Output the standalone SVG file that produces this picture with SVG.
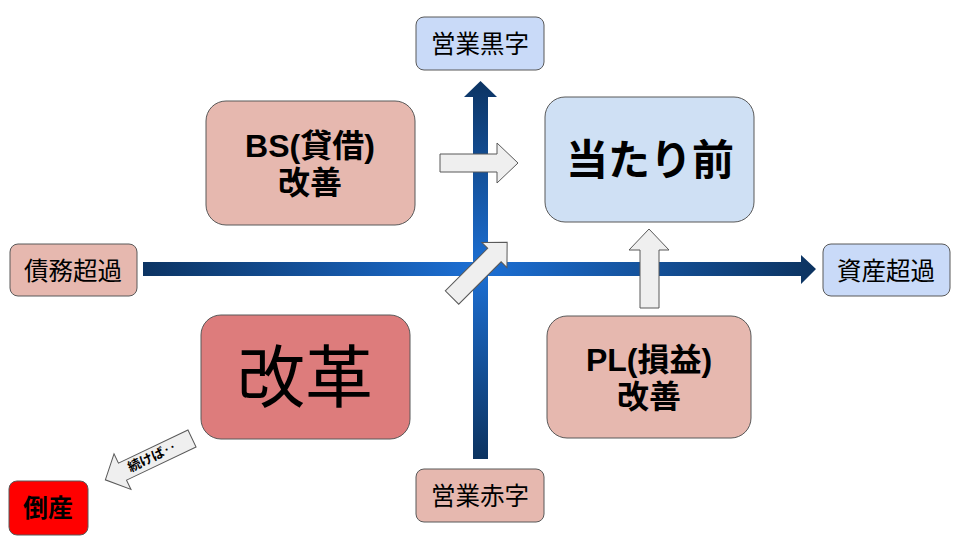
<svg xmlns="http://www.w3.org/2000/svg" width="960" height="540" viewBox="0 0 960 540">
<style>
.box{stroke:#595959;stroke-width:1}
.blue{fill:#c9daf8}
.pale{fill:#cfe0f4}
.pink{fill:#e6b8af}
.red{fill:#dd7c7c}
.crit{fill:#ff0000}
.blk{fill:#efefef;stroke:#595959;stroke-width:1}
text{font-family:"Liberation Sans","Noto Sans CJK JP",sans-serif;fill:#000;text-anchor:middle;dominant-baseline:central}
.s{font-size:24.5px}
.b{font-weight:bold}
.m{font-size:32px;font-weight:bold}
</style>
<defs>
<linearGradient id="gh" gradientUnits="userSpaceOnUse" x1="143" y1="0" x2="816" y2="0">
<stop offset="0" stop-color="#0c3463"/>
<stop offset="0.5" stop-color="#1c6fd4"/>
<stop offset="1" stop-color="#0c3360"/>
</linearGradient>
<linearGradient id="gv" gradientUnits="userSpaceOnUse" x1="0" y1="81" x2="0" y2="459">
<stop offset="0" stop-color="#0c3463"/>
<stop offset="0.5" stop-color="#1c6fd4"/>
<stop offset="1" stop-color="#0c3360"/>
</linearGradient>
</defs>
<g id="connectors">
<polygon id="axis-h" fill="url(#gh)" points="143,262 801,262 801,255 816,269 801,284 801,276 143,276"/>
<polygon id="axis-v" fill="url(#gv)" points="473,459 473,97 464,97 480.5,81 497,97 488,97 488,459"/>
<polygon id="arrow-bs" class="blk" points="440,154 497,154 497,143 518,163 497,183 497,172 440,172"/>
<polygon id="arrow-diag" class="blk" transform="translate(452,297.5) rotate(-45)" points="0,-9.5 60,-9.5 60,-17.7 78,0 60,17.7 60,9.5 0,9.5"/>
<polygon id="arrow-pl" class="blk" points="640,308 640,250 629,250 649,229 669,250 659,250 659,308"/>
<g id="arrow-tsuzuke">
<polygon class="blk" transform="translate(192,438.5) rotate(154.5)" points="0,-9.4 77,-9.4 77,-19.7 96,0 77,19.7 77,9.4 0,9.4"/>
<text transform="translate(152,457) rotate(-25.5)" font-size="13" font-weight="bold">続けば‥</text>
</g>
</g>
<g id="n-kuroji"><rect class="box blue" x="416" y="17" width="128" height="53" rx="8"/><text class="s" x="480" y="44">営業黒字</text></g>
<g id="n-bs"><rect class="box pink" x="206" y="101" width="209" height="124" rx="20"/><text class="m" x="310" y="146">BS(貸借)</text><text class="m" x="310" y="183">改善</text></g>
<g id="n-atarimae"><rect class="box pale" x="545" y="97" width="209" height="125" rx="20"/><text class="b" font-size="42" x="650" y="160">当たり前</text></g>
<g id="n-saimu"><rect class="box pink" x="10" y="244" width="127" height="52" rx="8"/><text class="s" x="73" y="271">債務超過</text></g>
<g id="n-shisan"><rect class="box blue" x="823" y="244" width="127" height="52" rx="8"/><text class="s" x="886" y="271">資産超過</text></g>
<g id="n-kaikaku"><rect class="box red" x="201" y="315" width="209" height="124" rx="20"/><text font-size="68" x="305" y="378">改革</text></g>
<g id="n-pl"><rect class="box pink" x="547" y="316" width="204" height="122" rx="20"/><text class="m" x="649" y="360">PL(損益)</text><text class="m" x="649" y="397">改善</text></g>
<g id="n-akaji"><rect class="box pink" x="416" y="469" width="128" height="53" rx="8"/><text class="s" x="480" y="496">営業赤字</text></g>
<g id="n-tosan"><rect class="box crit" x="9" y="481" width="79" height="54" rx="8"/><text class="b" font-size="25" x="48" y="508">倒産</text></g>
</svg>
